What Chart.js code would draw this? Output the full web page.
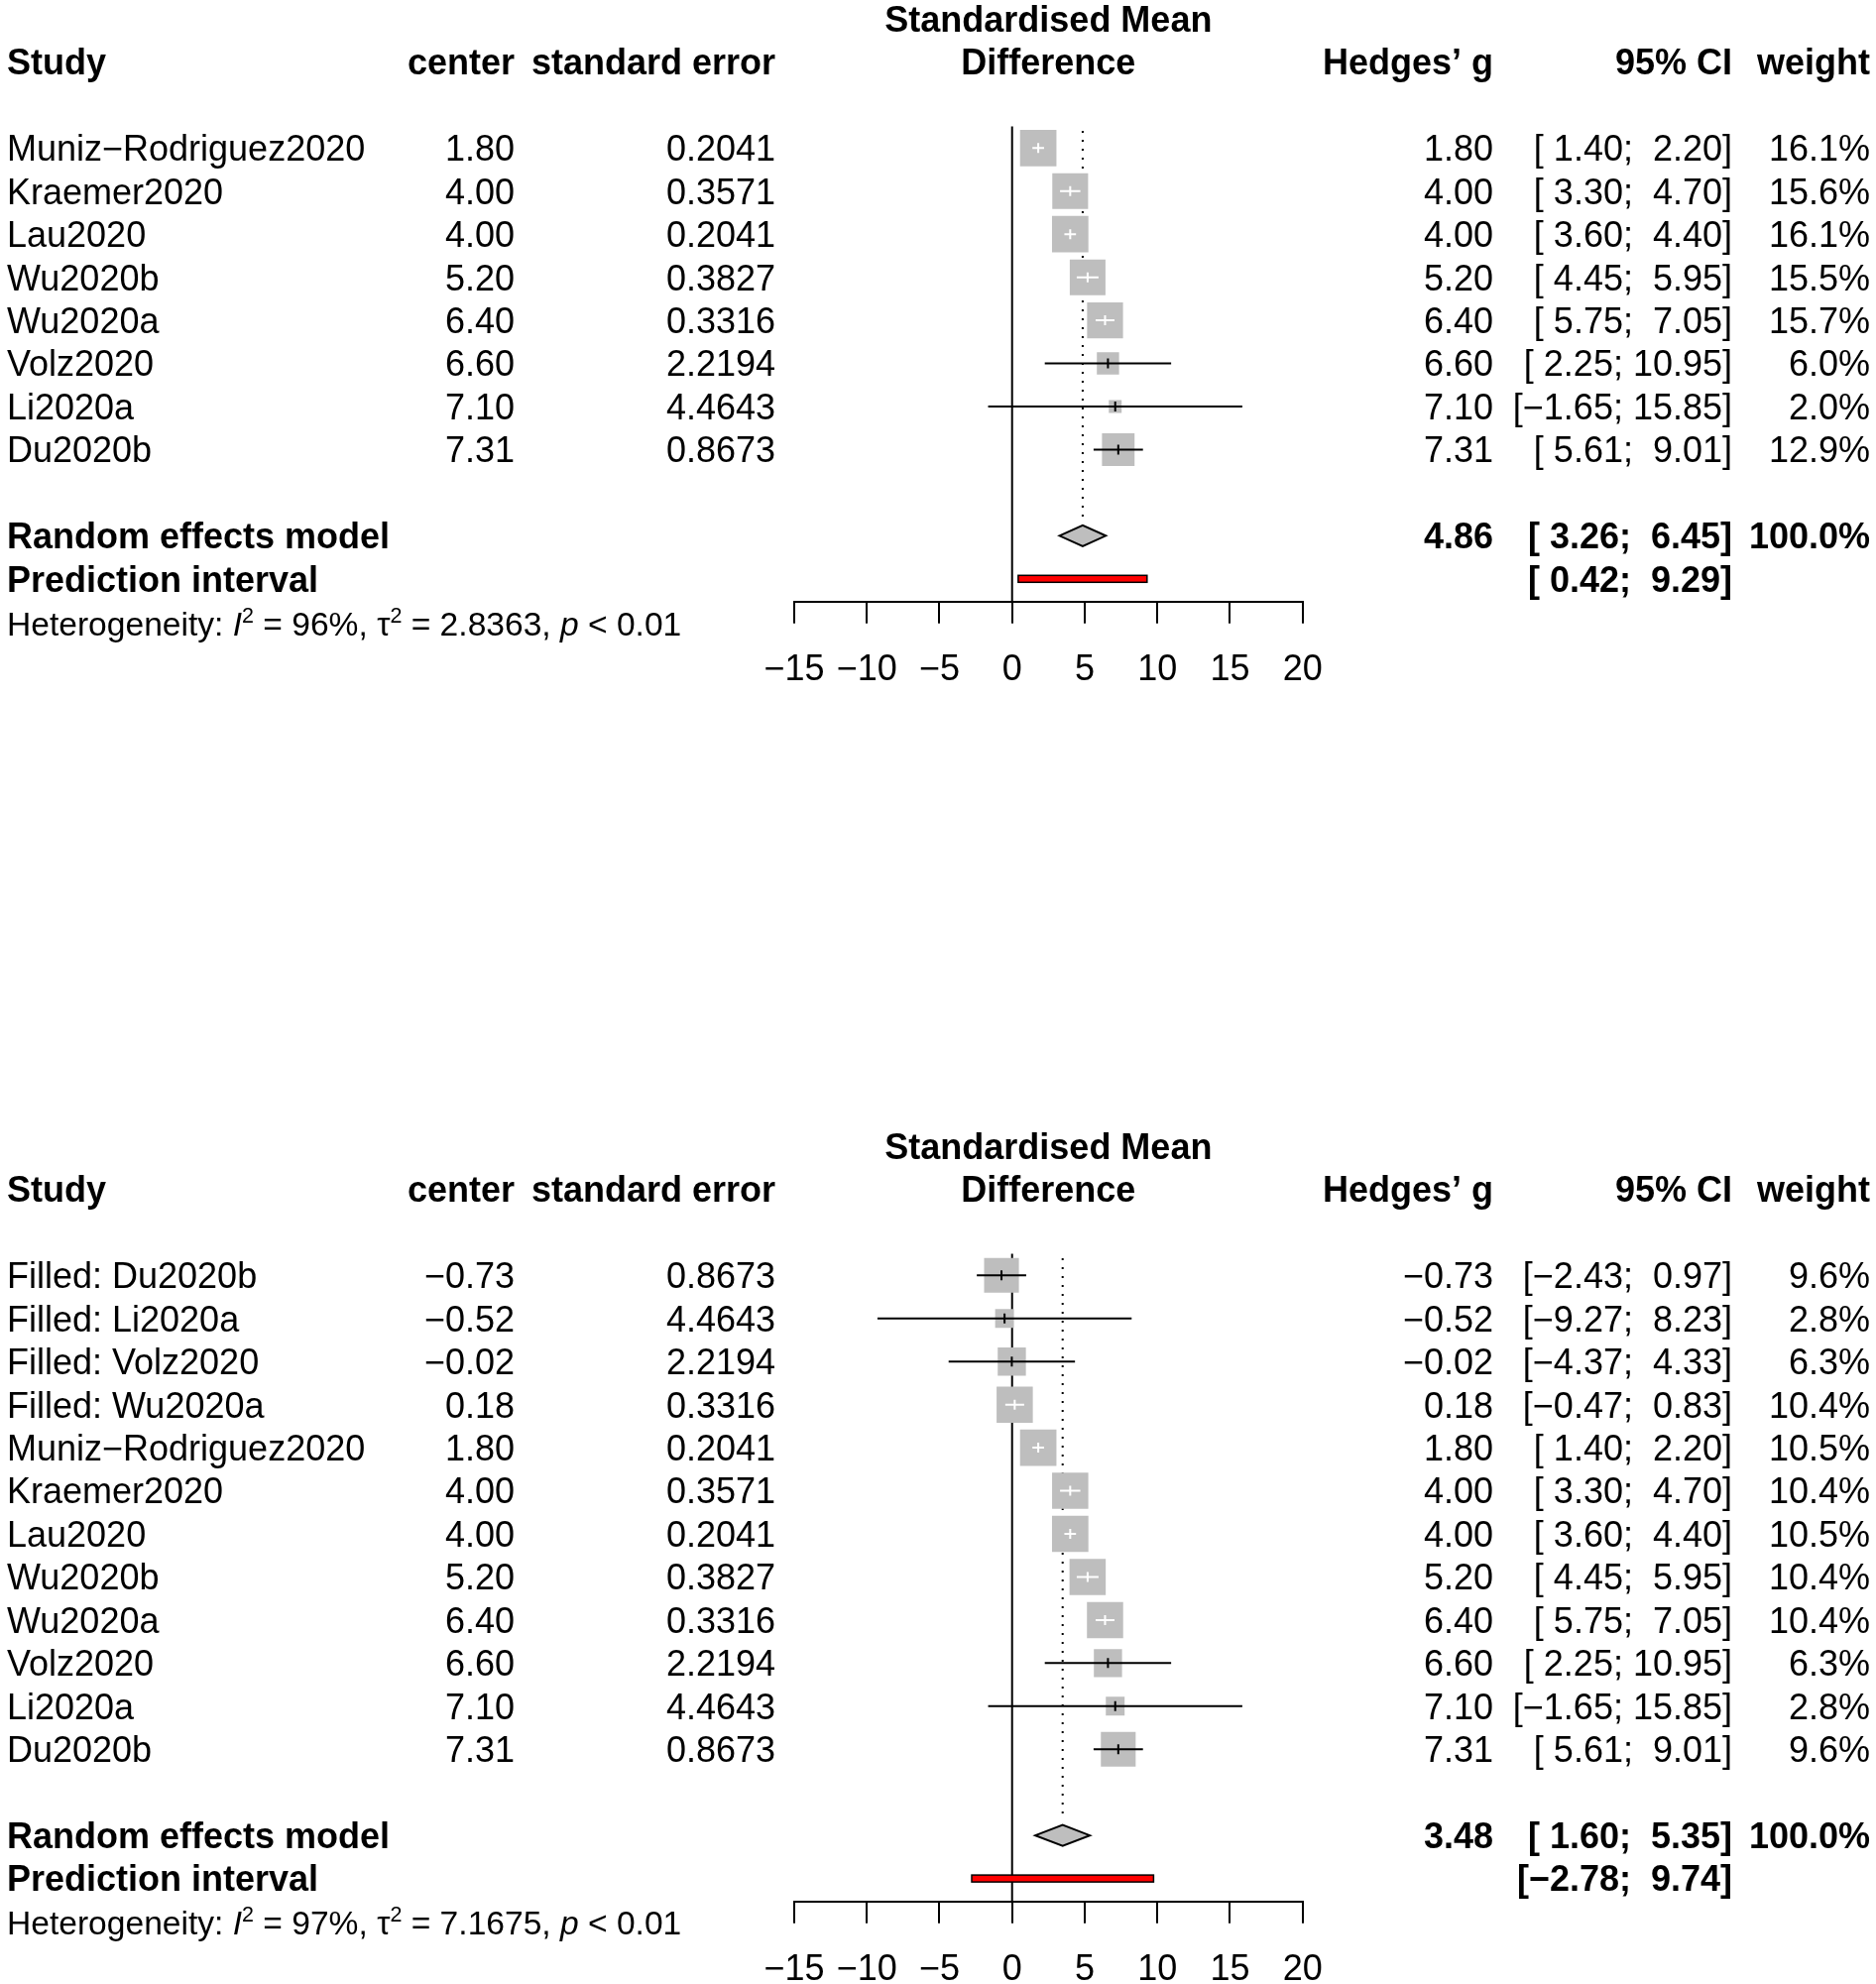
<!DOCTYPE html>
<html>
<head>
<meta charset="utf-8">
<script src="https://cdn.jsdelivr.net/npm/chart.js@4.4.0/dist/chart.umd.min.js"></script>
<style>
  html, body { margin: 0; padding: 0; background: #fff; }
  body { width: 1892px; height: 2001px; position: relative; overflow: hidden; }
  canvas { position: absolute; left: 0; }
  #forest1 { top: 0; }
  #forest2 { top: 1137px; }
</style>
</head>
<body>
<canvas id="forest1" width="1892" height="720"></canvas>
<canvas id="forest2" width="1892" height="864"></canvas>
<script>
/* Forest plots (meta-analysis, random effects), two panels */

// ---- panel 1: observed studies ----
const studies1 = ['Muniz\u2212Rodriguez2020', 'Kraemer2020', 'Lau2020', 'Wu2020b', 'Wu2020a', 'Volz2020', 'Li2020a', 'Du2020b'];
const center1 = [1.80, 4.00, 4.00, 5.20, 6.40, 6.60, 7.10, 7.31];
const se1 = [0.2041, 0.3571, 0.2041, 0.3827, 0.3316, 2.2194, 4.4643, 0.8673];
const lower1 = [1.40, 3.30, 3.60, 4.45, 5.75, 2.25, -1.65, 5.61];
const upper1 = [2.20, 4.70, 4.40, 5.95, 7.05, 10.95, 15.85, 9.01];
const weight1 = [16.1, 15.6, 16.1, 15.5, 15.7, 6.0, 2.0, 12.9];
const pooled1 = [4.86, 3.26, 6.45];      // estimate, lower, upper
const predict1 = [0.42, 9.29];
const het1 = ['96%', '2.8363', '< 0.01']; // I^2, tau^2, p

// ---- panel 2: trim-and-fill ----
const studies2 = ['Filled: Du2020b', 'Filled: Li2020a', 'Filled: Volz2020', 'Filled: Wu2020a',
  'Muniz\u2212Rodriguez2020', 'Kraemer2020', 'Lau2020', 'Wu2020b', 'Wu2020a', 'Volz2020', 'Li2020a', 'Du2020b'];
const center2 = [-0.73, -0.52, -0.02, 0.18, 1.80, 4.00, 4.00, 5.20, 6.40, 6.60, 7.10, 7.31];
const se2 = [0.8673, 4.4643, 2.2194, 0.3316, 0.2041, 0.3571, 0.2041, 0.3827, 0.3316, 2.2194, 4.4643, 0.8673];
const lower2 = [-2.43, -9.27, -4.37, -0.47, 1.40, 3.30, 3.60, 4.45, 5.75, 2.25, -1.65, 5.61];
const upper2 = [0.97, 8.23, 4.33, 0.83, 2.20, 4.70, 4.40, 5.95, 7.05, 10.95, 15.85, 9.01];
const weight2 = [9.6, 2.8, 6.3, 10.4, 10.5, 10.4, 10.5, 10.4, 10.4, 6.3, 2.8, 9.6];
const pooled2 = [3.48, 1.60, 5.35];
const predict2 = [-2.78, 9.74];
const het2 = ['97%', '7.1675', '< 0.01'];

// ---- axis ----
const xMin = -15, xMax = 20, xStep = 5;

// ---- layout / style ----
const LINE = 43.45;          // px per text line
const TOP = 18.95;           // px of first header line inside each canvas
const FONT = "'Liberation Sans', Arial, Helvetica, sans-serif";
const COL = { study: 7, center: 519, se: 782, g: 1506, ci: 1747, weight: 1886 };
const GREY = '#BEBEBE';
const BOX_MAX = 36.7;        // side of the biggest square
const CAP = 0.358;           // half cap height, in em

const minus = s => s.replace('-', '\u2212');
const fmt = (v, d) => minus(v.toFixed(d));
const fmtCI = (lo, hi) => {
    const pad = v => minus(v.toFixed(2).padStart(5, ' '));
    return '[' + pad(lo) + '; ' + pad(hi) + ']';
};

// text centred vertically on its capitals
function text(ctx, str, x, y, align, bold) {
    const size = 36;
    ctx.font = (bold ? 'bold ' : '') + size + 'px ' + FONT;
    ctx.textAlign = align;
    ctx.textBaseline = 'alphabetic';
    ctx.fillStyle = '#000';
    ctx.fillText(str, x, y + CAP * size);
}

// heterogeneity line with italic symbols and superscripts
function drawHet(ctx, x, y, h) {
    const parts = [
        ['Heterogeneity: ', ''], ['I', 'i'], ['2', 'sup'], [' = ' + h[0] + ', ', ''],
        ['\u03c4', ''], ['2', 'sup'], [' = ' + h[1] + ', ', ''], ['p', 'i'], [' ' + h[2], '']
    ];
    const base = y + CAP * 33.6;
    ctx.textAlign = 'left';
    ctx.textBaseline = 'alphabetic';
    ctx.fillStyle = '#000';
    parts.forEach(([s, style]) => {
        let size = 33.6, dy = 0, pre = '';
        if (style === 'i') pre = 'italic ';
        if (style === 'sup') { size = 21.5; dy = -13; }
        ctx.font = pre + size + 'px ' + FONT;
        ctx.fillText(s, x, base + dy);
        x += ctx.measureText(s).width;
    });
}

function makeForestPlugin(p, rows) {
    return {
        id: 'forest',
        beforeDatasetsDraw(chart) {
            const { ctx, scales: { x, y } } = chart;
            ctx.save();
            ctx.strokeStyle = '#000';
            ctx.lineWidth = 2;
            // line of no effect
            const x0 = x.getPixelForValue(0);
            ctx.beginPath();
            ctx.moveTo(x0, y.getPixelForValue(rows.first - 0.5));
            ctx.lineTo(x0, y.getPixelForValue(rows.axis));
            ctx.stroke();
            // pooled estimate, dotted
            const xm = x.getPixelForValue(p.pooled[0]);
            ctx.setLineDash([2, 7]);
            ctx.beginPath();
            ctx.moveTo(xm, y.getPixelForValue(rows.first - 0.4));
            ctx.lineTo(xm, y.getPixelForValue(rows.pooled - 0.4));
            ctx.stroke();
            ctx.restore();
        },
        afterDatasetsDraw(chart) {
            const { ctx, scales: { x, y } } = chart;
            ctx.save();
            ctx.lineWidth = 2;
            // confidence intervals: white when hidden inside the square
            p.center.forEach((c, i) => {
                const yc = y.getPixelForValue(rows.first + i);
                const xc = x.getPixelForValue(c);
                const xl = x.getPixelForValue(p.lower[i]);
                const xu = x.getPixelForValue(p.upper[i]);
                const half = p.sides[i] / 2;
                ctx.strokeStyle = (xl >= xc - half && xu <= xc + half) ? '#fff' : '#000';
                ctx.beginPath();
                ctx.moveTo(xl, yc);
                ctx.lineTo(xu, yc);
                ctx.moveTo(xc, yc - 5);
                ctx.lineTo(xc, yc + 5);
                ctx.stroke();
            });
            // summary diamond
            const yd = y.getPixelForValue(rows.pooled);
            ctx.beginPath();
            ctx.moveTo(x.getPixelForValue(p.pooled[1]), yd);
            ctx.lineTo(x.getPixelForValue(p.pooled[0]), yd - 10.5);
            ctx.lineTo(x.getPixelForValue(p.pooled[2]), yd);
            ctx.lineTo(x.getPixelForValue(p.pooled[0]), yd + 10.5);
            ctx.closePath();
            ctx.fillStyle = GREY;
            ctx.fill();
            ctx.strokeStyle = '#000';
            ctx.stroke();
            // prediction interval
            const yp = y.getPixelForValue(rows.pred);
            const xa = x.getPixelForValue(p.predict[0]);
            const xb = x.getPixelForValue(p.predict[1]);
            ctx.fillStyle = '#FF0000';
            ctx.lineWidth = 1.5;
            ctx.fillRect(xa, yp - 3.5, xb - xa, 7);
            ctx.strokeRect(xa, yp - 3.5, xb - xa, 7);
            ctx.restore();
        },
        afterDraw(chart) {
            const { ctx, chartArea, scales: { y } } = chart;
            const line = k => y.getPixelForValue(k);
            const midX = (chartArea.left + chartArea.right) / 2;
            ctx.save();
            // header
            text(ctx, 'Standardised Mean', midX, line(0), 'center', true);
            text(ctx, 'Difference', midX, line(1), 'center', true);
            text(ctx, 'Study', COL.study, line(1), 'left', true);
            text(ctx, 'center', COL.center, line(1), 'right', true);
            text(ctx, 'standard error', COL.se, line(1), 'right', true);
            text(ctx, 'Hedges\u2019 g', COL.g, line(1), 'right', true);
            text(ctx, '95% CI', COL.ci, line(1), 'right', true);
            text(ctx, 'weight', COL.weight, line(1), 'right', true);
            // studies
            p.studies.forEach((s, i) => {
                const yy = line(rows.first + i);
                text(ctx, s, COL.study, yy, 'left');
                text(ctx, fmt(p.center[i], 2), COL.center, yy, 'right');
                text(ctx, p.se[i].toFixed(4), COL.se, yy, 'right');
                text(ctx, fmt(p.center[i], 2), COL.g, yy, 'right');
                text(ctx, fmtCI(p.lower[i], p.upper[i]), COL.ci, yy, 'right');
                text(ctx, p.weight[i].toFixed(1) + '%', COL.weight, yy, 'right');
            });
            // summary rows
            const yr = line(rows.pooled);
            text(ctx, 'Random effects model', COL.study, yr, 'left', true);
            text(ctx, fmt(p.pooled[0], 2), COL.g, yr, 'right', true);
            text(ctx, fmtCI(p.pooled[1], p.pooled[2]), COL.ci, yr, 'right', true);
            text(ctx, '100.0%', COL.weight, yr, 'right', true);
            const yp = line(rows.pred);
            text(ctx, 'Prediction interval', COL.study, yp, 'left', true);
            text(ctx, fmtCI(p.predict[0], p.predict[1]), COL.ci, yp, 'right', true);
            drawHet(ctx, COL.study, line(rows.het), p.het);
            ctx.restore();
        }
    };
}

function drawForest(canvasId, p) {
    const canvas = document.getElementById(canvasId);
    const n = p.studies.length;
    const rows = { first: 3 };
    rows.pooled = rows.first + n + 1;
    rows.pred = rows.pooled + 1;
    rows.axis = rows.pred + 0.53;
    rows.het = rows.pred + 1.03;

    const yMin = -TOP / LINE;
    const axisPx = (rows.axis - yMin) * LINE;
    const xAxisH = canvas.height - axisPx;

    const maxW = Math.max(...p.weight);
    p.sides = p.weight.map(w => BOX_MAX * Math.sqrt(w / maxW));

    return new Chart(canvas.getContext('2d'), {
        type: 'scatter',
        data: {
            datasets: [{
                data: p.center.map((c, i) => ({ x: c, y: rows.first + i })),
                pointStyle: 'rect',
                pointRadius: p.sides.map(s => s / Math.SQRT2),
                pointHoverRadius: p.sides.map(s => s / Math.SQRT2),
                backgroundColor: GREY,
                borderWidth: 0
            }]
        },
        options: {
            responsive: false,
            animation: false,
            devicePixelRatio: 1,
            events: [],
            layout: { autoPadding: false, padding: { left: 801, right: 1892 - 1313.7, top: 0, bottom: 0 } },
            plugins: { legend: { display: false }, tooltip: { enabled: false } },
            scales: {
                x: {
                    type: 'linear',
                    min: xMin,
                    max: xMax,
                    afterFit: scale => { scale.height = xAxisH; },
                    ticks: {
                        stepSize: xStep,
                        autoSkip: false,
                        maxRotation: 0,
                        padding: 26,
                        color: '#000',
                        font: { family: FONT, size: 36 },
                        callback: v => minus(String(v))
                    },
                    grid: { drawOnChartArea: false, drawTicks: true, tickLength: 22, color: '#000', lineWidth: 2 },
                    border: { display: true, color: '#000', width: 2 }
                },
                y: { type: 'linear', reverse: true, min: yMin, max: rows.axis, display: false }
            }
        },
        plugins: [makeForestPlugin(p, rows)]
    });
}

drawForest('forest1', {
    studies: studies1, center: center1, se: se1, lower: lower1, upper: upper1,
    weight: weight1, pooled: pooled1, predict: predict1, het: het1
});
drawForest('forest2', {
    studies: studies2, center: center2, se: se2, lower: lower2, upper: upper2,
    weight: weight2, pooled: pooled2, predict: predict2, het: het2
});
</script>
</body>
</html>
